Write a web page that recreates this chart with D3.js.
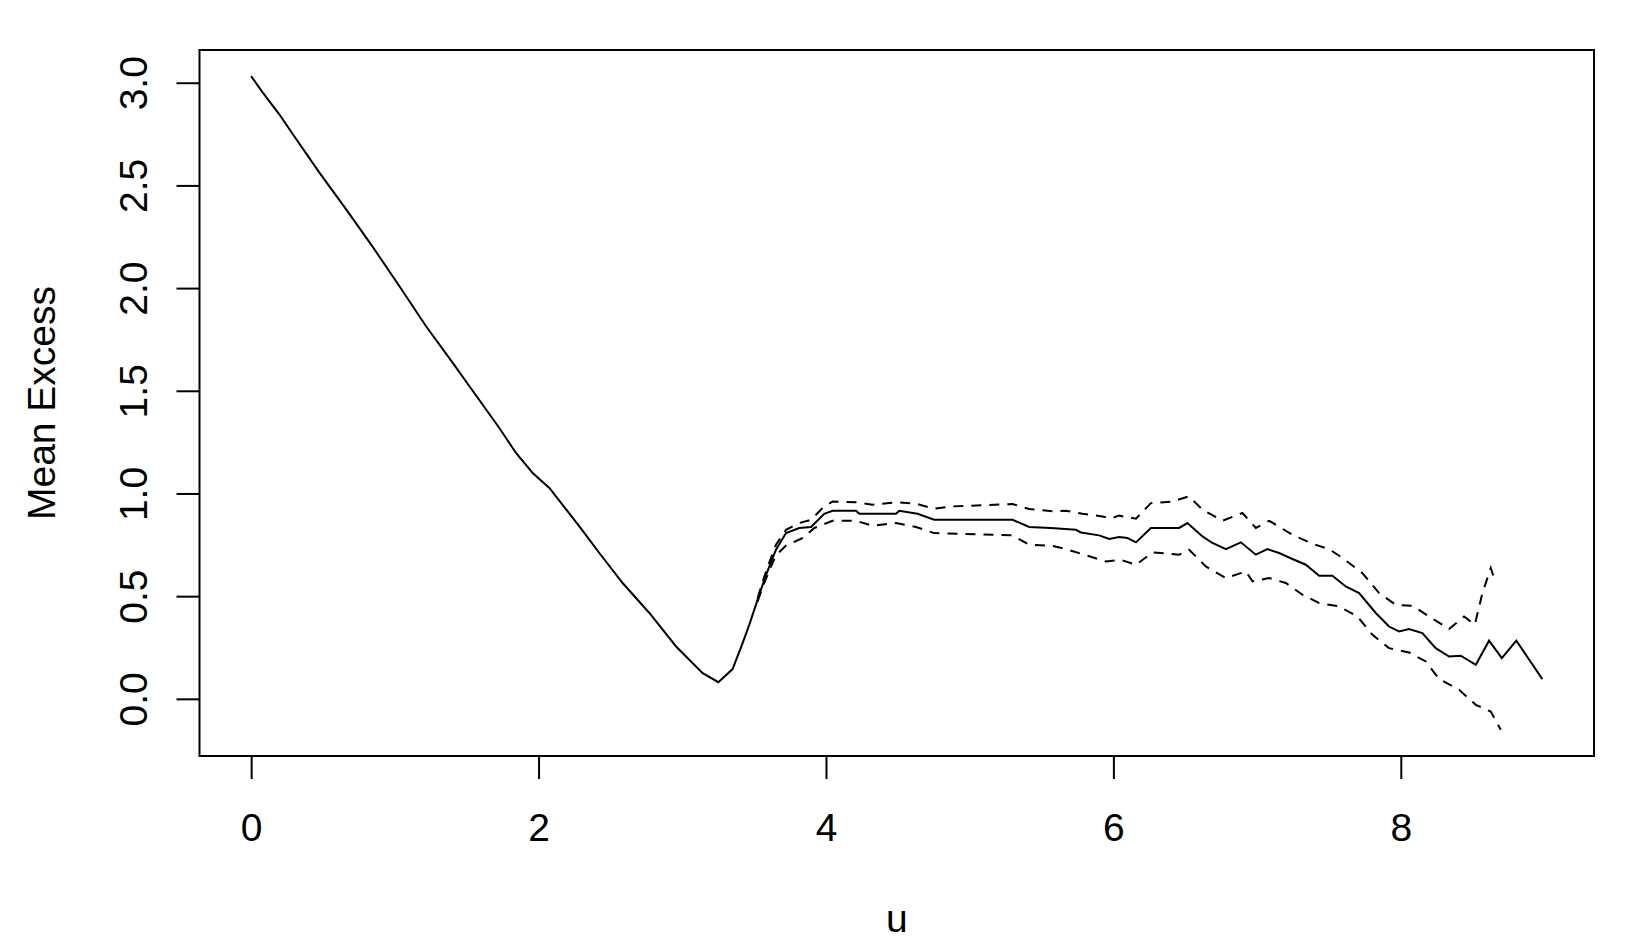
<!DOCTYPE html>
<html>
<head>
<meta charset="utf-8">
<script src="https://cdn.jsdelivr.net/npm/d3@7"></script>
<style>
  body { margin: 0; background: #fff; }
  text { font-family: "Liberation Sans", Arial, sans-serif; fill: #000; }
</style>
</head>
<body>
<div id="chart"></div>
<script>
// mean excess (solid)
var uMean = [0, 0.081, 0.197, 0.289, 0.475, 0.661, 0.835, 1.032, 1.217, 1.403, 1.519, 1.727, 1.843, 1.959, 2.075,
  2.284, 2.423, 2.585, 2.771, 2.957, 3.142, 3.251, 3.35, 3.42, 3.466, 3.524, 3.571, 3.606, 3.652, 3.722, 3.814,
  3.896, 3.988, 4.046, 4.209, 4.232, 4.487, 4.51, 4.637, 4.753, 5.298, 5.414, 5.565, 5.739, 5.774, 5.901, 5.971,
  6.04, 6.098, 6.157, 6.261, 6.458, 6.515, 6.62, 6.689, 6.783, 6.887, 6.991, 7.072, 7.153, 7.246, 7.339, 7.432,
  7.524, 7.617, 7.71, 7.826, 7.918, 7.988, 8.057, 8.15, 8.243, 8.336, 8.417, 8.522, 8.614, 8.703, 8.804, 8.985];
var meanExcess = [3.032, 2.952, 2.845, 2.75, 2.562, 2.383, 2.212, 2.009, 1.814, 1.636, 1.522, 1.319, 1.197, 1.1, 1.027,
  0.84, 0.71, 0.564, 0.418, 0.255, 0.125, 0.081, 0.145, 0.271, 0.36, 0.482, 0.58, 0.645, 0.726, 0.807, 0.832,
  0.837, 0.901, 0.916, 0.916, 0.901, 0.901, 0.916, 0.901, 0.872, 0.872, 0.837, 0.832, 0.823, 0.81, 0.796, 0.778,
  0.788, 0.783, 0.762, 0.832, 0.832, 0.856, 0.791, 0.759, 0.729, 0.762, 0.702, 0.729, 0.71, 0.681, 0.653, 0.599,
  0.599, 0.547, 0.515, 0.418, 0.352, 0.328, 0.34, 0.32, 0.247, 0.206, 0.21, 0.166, 0.283, 0.198, 0.283, 0.096];

// upper confidence band (dashed)
var uUpper = [3.524, 3.571, 3.606, 3.652, 3.722, 3.814, 3.896, 3.976, 4.046, 4.209, 4.324, 4.487, 4.626, 4.753,
  4.881, 5.298, 5.414, 5.576, 5.67, 5.785, 5.924, 5.983, 6.04, 6.157, 6.261, 6.411, 6.527, 6.62, 6.759, 6.898,
  6.991, 7.084, 7.246, 7.385, 7.501, 7.594, 7.733, 7.849, 7.965, 8.081, 8.197, 8.336, 8.44, 8.515, 8.568, 8.626, 8.649];
var upper = [0.49, 0.595, 0.665, 0.75, 0.823, 0.856, 0.872, 0.929, 0.961, 0.957, 0.945, 0.957, 0.95, 0.926,
  0.937, 0.949, 0.924, 0.913, 0.916, 0.901, 0.888, 0.879, 0.892, 0.877, 0.953, 0.961, 0.986, 0.921, 0.867, 0.905,
  0.832, 0.867, 0.799, 0.755, 0.729, 0.686, 0.612, 0.515, 0.458, 0.453, 0.401, 0.34, 0.401, 0.361, 0.515, 0.637, 0.588];

// lower confidence band (dashed)
var uLower = [3.524, 3.571, 3.606, 3.652, 3.722, 3.837, 3.919, 4.046, 4.209, 4.324, 4.487, 4.626, 4.753, 5.298,
  5.414, 5.576, 5.67, 5.797, 5.948, 6.052, 6.157, 6.272, 6.458, 6.527, 6.643, 6.783, 6.922, 6.968, 7.084, 7.2,
  7.316, 7.432, 7.571, 7.698, 7.803, 7.918, 8.057, 8.174, 8.267, 8.406, 8.522, 8.626, 8.696];
var lower = [0.475, 0.565, 0.625, 0.7, 0.746, 0.783, 0.832, 0.867, 0.867, 0.843, 0.856, 0.837, 0.807, 0.796,
  0.75, 0.745, 0.729, 0.702, 0.669, 0.677, 0.653, 0.713, 0.702, 0.726, 0.645, 0.588, 0.62, 0.572, 0.588, 0.564,
  0.507, 0.466, 0.45, 0.401, 0.312, 0.247, 0.226, 0.182, 0.096, 0.044, -0.029, -0.062, -0.151];

var xTicks = [0, 2, 4, 6, 8];
var yTicks = [0, 0.5, 1, 1.5, 2, 2.5, 3];

var margin = { top: 50, right: 35, bottom: 191, left: 199.5 },
  width = 1629 - margin.left - margin.right,
  height = 947 - margin.top - margin.bottom;

var svg = d3
  .select("#chart")
  .append("svg")
  .attr("width", 1629)
  .attr("height", 947)
  .append("g")
  .attr("transform", "translate(" + margin.left + "," + margin.top + ")");

// R style 4% padding on data range
function pad(ext) {
  var d = (ext[1] - ext[0]) * 0.04;
  return [ext[0] - d, ext[1] + d];
}
var x = d3.scaleLinear().domain(pad(d3.extent(uMean))).range([0, width]);
var y = d3.scaleLinear().domain(pad([d3.min(lower), d3.max(meanExcess)])).range([height, 0]);

var fs = 39;

// X axis
var xaxis = svg
  .append("g")
  .attr("transform", "translate(0," + height + ")")
  .call(d3.axisBottom(x).tickValues(xTicks).tickSize(23).tickPadding(34).tickFormat(d3.format("d")));
xaxis.selectAll("text").style("font-size", fs + "px").attr("fill", "#000");

// Y axis
var yaxis = svg
  .append("g")
  .call(d3.axisLeft(y).tickValues(yTicks).tickSize(23).tickFormat(d3.format(".1f")));
yaxis
  .selectAll("text")
  .style("font-size", fs + "px")
  .attr("fill", "#000")
  .attr("x", 0)
  .attr("dy", 0)
  .attr("text-anchor", "middle")
  .attr("transform", "translate(-53,0) rotate(-90)");

svg.selectAll(".domain").attr("stroke", "none");
svg.selectAll(".tick line").attr("stroke", "#000").attr("stroke-width", 2);

// box round plot
svg
  .append("rect")
  .attr("width", width)
  .attr("height", height)
  .attr("fill", "none")
  .attr("stroke", "#000")
  .attr("stroke-width", 2);

// axis labels
svg
  .append("text")
  .attr("transform", "rotate(-90)")
  .attr("x", -height / 2)
  .attr("y", 55 - margin.left)
  .attr("text-anchor", "middle")
  .style("font-size", fs + "px")
  .text("Mean Excess");

svg
  .append("text")
  .attr("x", width / 2)
  .attr("y", 932 - margin.top)
  .attr("text-anchor", "middle")
  .style("font-size", fs + "px")
  .text("u");

// lines
var line = d3
  .line()
  .x((d) => x(d[0]))
  .y((d) => y(d[1]));

var series = [
  { u: uUpper, v: upper, dash: "10,8" },
  { u: uLower, v: lower, dash: "10,8" },
  { u: uMean, v: meanExcess, dash: null },
];

svg
  .selectAll(".me-line")
  .data(series)
  .enter()
  .append("path")
  .attr("class", "me-line")
  .attr("fill", "none")
  .attr("stroke", "#000")
  .attr("stroke-width", 2)
  .attr("stroke-dasharray", (d) => d.dash)
  .attr("d", (d) => line(d3.zip(d.u, d.v)));
</script>
</body>
</html>
